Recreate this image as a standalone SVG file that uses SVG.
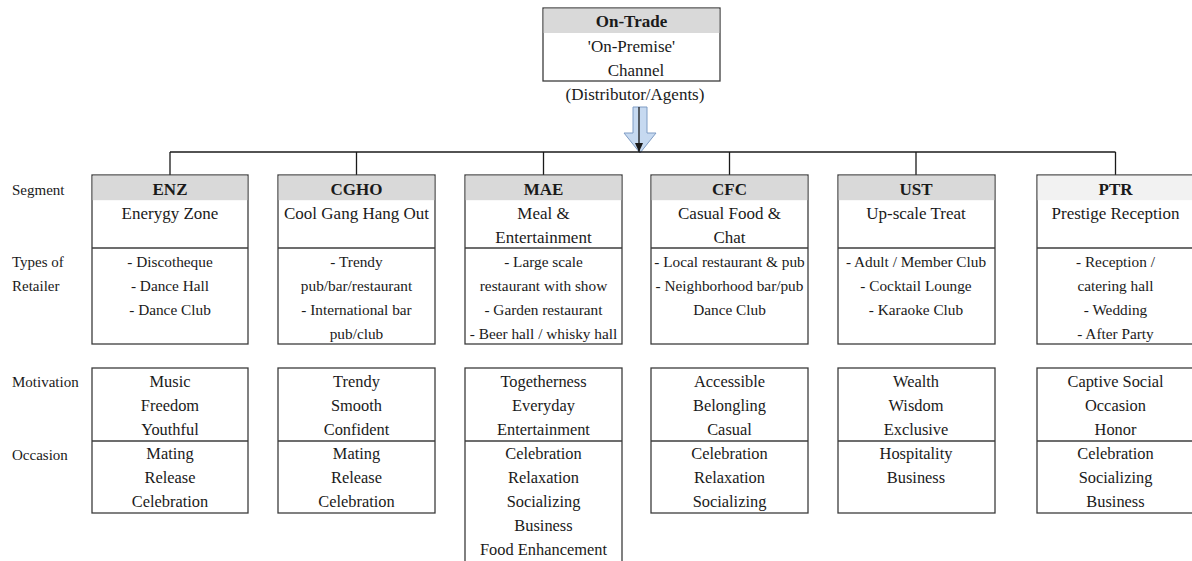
<svg xmlns="http://www.w3.org/2000/svg" width="1192" height="561" viewBox="0 0 1192 561">
  <style>
    text { font-family: "Liberation Serif", "Times New Roman", serif; fill: #1a1a1a; }
    .hd { font-size: 17px; font-weight: bold; text-anchor: middle; }
    .nm { font-size: 17px; text-anchor: middle; }
    .ls { font-size: 15.3px; text-anchor: middle; }
    .mo { font-size: 16.4px; text-anchor: middle; }
    .lb { font-size: 15px; }
    .box { fill: #ffffff; stroke: #3c3c3c; stroke-width: 1.3; }
    .hdr { fill: #d9d9d9; }
    .hdr2 { fill: #f2f2f2; }
    .rule { stroke: #3c3c3c; stroke-width: 1.3; fill: none; }
    .conn { stroke: #1a1a1a; stroke-width: 1.3; fill: none; }
  </style>
  <defs>
    <marker id="tip" markerWidth="9" markerHeight="8" refX="9" refY="4" orient="auto" markerUnits="userSpaceOnUse" viewBox="0 0 9 8">
      <path d="M0,0 L9,4 L0,8 Z" fill="#1a1a1a"/>
    </marker>
  </defs>

  <rect width="1192" height="561" fill="#ffffff"/>

  <!-- Channel root -->
  <g id="on-trade">
    <rect class="box" x="543" y="8" width="177" height="73"/>
    <rect class="hdr" x="543.7" y="8.7" width="175.6" height="24.3"/>
    <text class="hd" x="631.5" y="27">On-Trade</text>
    <text class="nm" x="631.5" y="52">'On-Premise'</text>
    <text class="nm" x="636" y="76">Channel</text>
    <text class="nm" x="635" y="100">(Distributor/Agents)</text>
  </g>

  <!-- Connectors -->
  <g id="connectors">
    <path d="M633,107 L647,107 L647,133 L656,133 L640,153 L624,133 L633,133 Z" fill="#c6d9f0" stroke="#7f9cc4" stroke-width="1"/>
    <line class="conn" x1="639" y1="107" x2="639" y2="152" marker-end="url(#tip)"/>
    <line class="conn" x1="170" y1="152" x2="1115.5" y2="152"/>
    <line class="conn" x1="170" y1="152" x2="170" y2="175"/>
    <line class="conn" x1="356.5" y1="152" x2="356.5" y2="175"/>
    <line class="conn" x1="543.5" y1="152" x2="543.5" y2="175"/>
    <line class="conn" x1="729.5" y1="152" x2="729.5" y2="175"/>
    <line class="conn" x1="916" y1="152" x2="916" y2="175"/>
    <line class="conn" x1="1115.5" y1="152" x2="1115.5" y2="175"/>
  </g>

  <!-- Row labels -->
  <g id="row-labels">
    <text class="lb" x="12" y="195">Segment</text>
    <text class="lb" x="12" y="267">Types of</text>
    <text class="lb" x="12" y="291">Retailer</text>
    <text class="lb" x="12" y="387">Motivation</text>
    <text class="lb" x="12" y="460">Occasion</text>
  </g>

  <!-- ENZ -->
  <g id="enz">
    <rect class="box" x="92" y="175" width="156" height="169"/>
    <rect class="hdr" x="92.7" y="175.7" width="154.6" height="24.5"/>
    <line class="rule" x1="92" y1="248" x2="248" y2="248"/>
    <text class="hd" x="170" y="195">ENZ</text>
    <text class="nm" x="170" y="219">Enerygy Zone</text>
    <text class="ls" x="170" y="267">- Discotheque</text>
    <text class="ls" x="170" y="291">- Dance Hall</text>
    <text class="ls" x="170" y="315">- Dance Club</text>
    <rect class="box" x="92" y="368" width="156" height="145"/>
    <line class="rule" x1="92" y1="441" x2="248" y2="441"/>
    <text class="mo" x="170" y="387">Music</text>
    <text class="mo" x="170" y="411">Freedom</text>
    <text class="mo" x="170" y="435">Youthful</text>
    <text class="mo" x="170" y="459">Mating</text>
    <text class="mo" x="170" y="483">Release</text>
    <text class="mo" x="170" y="507">Celebration</text>
  </g>

  <!-- CGHO -->
  <g id="cgho">
    <rect class="box" x="278" y="175" width="157" height="169"/>
    <rect class="hdr" x="278.7" y="175.7" width="155.6" height="24.5"/>
    <line class="rule" x1="278" y1="248" x2="435" y2="248"/>
    <text class="hd" x="356.5" y="195">CGHO</text>
    <text class="nm" x="356.5" y="219">Cool Gang Hang Out</text>
    <text class="ls" x="356.5" y="267">- Trendy</text>
    <text class="ls" x="356.5" y="291">pub/bar/restaurant</text>
    <text class="ls" x="356.5" y="315">- International bar</text>
    <text class="ls" x="356.5" y="339">pub/club</text>
    <rect class="box" x="278" y="368" width="157" height="145"/>
    <line class="rule" x1="278" y1="441" x2="435" y2="441"/>
    <text class="mo" x="356.5" y="387">Trendy</text>
    <text class="mo" x="356.5" y="411">Smooth</text>
    <text class="mo" x="356.5" y="435">Confident</text>
    <text class="mo" x="356.5" y="459">Mating</text>
    <text class="mo" x="356.5" y="483">Release</text>
    <text class="mo" x="356.5" y="507">Celebration</text>
  </g>

  <!-- MAE -->
  <g id="mae">
    <rect class="box" x="465" y="175" width="157" height="169"/>
    <rect class="hdr" x="465.7" y="175.7" width="155.6" height="24.5"/>
    <line class="rule" x1="465" y1="248" x2="622" y2="248"/>
    <text class="hd" x="543.5" y="195">MAE</text>
    <text class="nm" x="543.5" y="219">Meal &amp;</text>
    <text class="nm" x="543.5" y="243">Entertainment</text>
    <text class="ls" x="543.5" y="267">- Large scale</text>
    <text class="ls" x="543.5" y="291">restaurant with show</text>
    <text class="ls" x="543.5" y="315">- Garden restaurant</text>
    <text class="ls" x="543.5" y="339">- Beer hall / whisky hall</text>
    <rect class="box" x="465" y="368" width="157" height="210"/>
    <line class="rule" x1="465" y1="441" x2="622" y2="441"/>
    <text class="mo" x="543.5" y="387">Togetherness</text>
    <text class="mo" x="543.5" y="411">Everyday</text>
    <text class="mo" x="543.5" y="435">Entertainment</text>
    <text class="mo" x="543.5" y="459">Celebration</text>
    <text class="mo" x="543.5" y="483">Relaxation</text>
    <text class="mo" x="543.5" y="507">Socializing</text>
    <text class="mo" x="543.5" y="531">Business</text>
    <text class="mo" x="543.5" y="555">Food Enhancement</text>
  </g>

  <!-- CFC -->
  <g id="cfc">
    <rect class="box" x="651" y="175" width="157" height="169"/>
    <rect class="hdr" x="651.7" y="175.7" width="155.6" height="24.5"/>
    <line class="rule" x1="651" y1="248" x2="808" y2="248"/>
    <text class="hd" x="729.5" y="195">CFC</text>
    <text class="nm" x="729.5" y="219">Casual Food &amp;</text>
    <text class="nm" x="729.5" y="243">Chat</text>
    <text class="ls" x="729.5" y="267">- Local restaurant &amp; pub</text>
    <text class="ls" x="729.5" y="291">- Neighborhood bar/pub</text>
    <text class="ls" x="729.5" y="315">Dance Club</text>
    <rect class="box" x="651" y="368" width="157" height="145"/>
    <line class="rule" x1="651" y1="441" x2="808" y2="441"/>
    <text class="mo" x="729.5" y="387">Accessible</text>
    <text class="mo" x="729.5" y="411">Belongling</text>
    <text class="mo" x="729.5" y="435">Casual</text>
    <text class="mo" x="729.5" y="459">Celebration</text>
    <text class="mo" x="729.5" y="483">Relaxation</text>
    <text class="mo" x="729.5" y="507">Socializing</text>
  </g>

  <!-- UST -->
  <g id="ust">
    <rect class="box" x="838" y="175" width="157" height="169"/>
    <rect class="hdr" x="838.7" y="175.7" width="155.6" height="24.5"/>
    <line class="rule" x1="838" y1="248" x2="995" y2="248"/>
    <text class="hd" x="916" y="195">UST</text>
    <text class="nm" x="916" y="219">Up-scale Treat</text>
    <text class="ls" x="916" y="267">- Adult / Member Club</text>
    <text class="ls" x="916" y="291">- Cocktail Lounge</text>
    <text class="ls" x="916" y="315">- Karaoke Club</text>
    <rect class="box" x="838" y="368" width="157" height="145"/>
    <line class="rule" x1="838" y1="441" x2="995" y2="441"/>
    <text class="mo" x="916" y="387">Wealth</text>
    <text class="mo" x="916" y="411">Wisdom</text>
    <text class="mo" x="916" y="435">Exclusive</text>
    <text class="mo" x="916" y="459">Hospitality</text>
    <text class="mo" x="916" y="483">Business</text>
  </g>

  <!-- PTR -->
  <g id="ptr">
    <rect class="box" x="1037" y="175" width="160" height="169"/>
    <rect class="hdr2" x="1037.7" y="175.7" width="158" height="24.5"/>
    <line class="rule" x1="1037" y1="248" x2="1197" y2="248"/>
    <text class="hd" x="1115.5" y="195">PTR</text>
    <text class="nm" x="1115.5" y="219">Prestige Reception</text>
    <text class="ls" x="1115.5" y="267">- Reception /</text>
    <text class="ls" x="1115.5" y="291">catering hall</text>
    <text class="ls" x="1115.5" y="315">- Wedding</text>
    <text class="ls" x="1115.5" y="339">- After Party</text>
    <rect class="box" x="1037" y="368" width="160" height="145"/>
    <line class="rule" x1="1037" y1="441" x2="1197" y2="441"/>
    <text class="mo" x="1115.5" y="387">Captive Social</text>
    <text class="mo" x="1115.5" y="411">Occasion</text>
    <text class="mo" x="1115.5" y="435">Honor</text>
    <text class="mo" x="1115.5" y="459">Celebration</text>
    <text class="mo" x="1115.5" y="483">Socializing</text>
    <text class="mo" x="1115.5" y="507">Business</text>
  </g>
</svg>
